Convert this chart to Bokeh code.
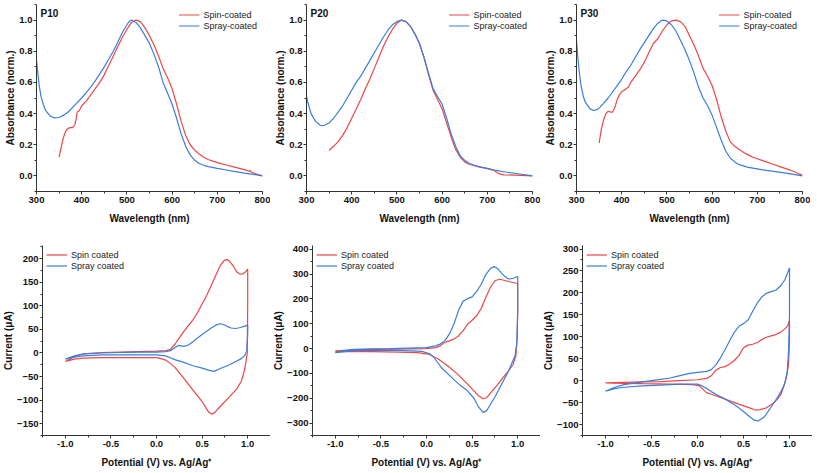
from bokeh.plotting import figure
from bokeh.layouts import column, row
from bokeh.models import Range1d, SingleIntervalTicker, PrintfTickFormatter, Label
from bokeh.embed import file_html
from bokeh.resources import INLINE

RED = "#ee4646"
BLUE = "#3a7ddd"
FONT = "Liberation Sans"

# ---------------- UV-vis data (wavelength nm, normalised absorbance) ----------------
p10_spray_x = [300, 303, 306, 310, 315, 320, 330, 340, 350, 360, 370, 380, 390, 400, 410, 420, 430, 440, 450,
               460, 470, 480, 490, 500, 505, 510, 520, 530, 540, 550, 560, 570, 580, 590, 600, 610, 620, 630,
               640, 650, 660, 670, 680, 700, 720, 740, 760, 780, 800]
p10_spray_y = [0.74, 0.66, 0.58, 0.51, 0.46, 0.42, 0.385, 0.372, 0.375, 0.39, 0.41, 0.44, 0.47, 0.50, 0.535,
               0.57, 0.61, 0.655, 0.70, 0.75, 0.80, 0.86, 0.92, 0.97, 0.99, 1.0, 0.985, 0.95, 0.90, 0.85, 0.78,
               0.70, 0.60, 0.53, 0.46, 0.37, 0.27, 0.19, 0.135, 0.10, 0.08, 0.068, 0.06, 0.048, 0.038, 0.028,
               0.018, 0.01, 0.0]
p10_spin_x = [350, 355, 360, 365, 370, 375, 380, 385, 388, 390, 395, 400, 410, 420, 430, 440, 450, 460, 470,
              480, 490, 500, 510, 520, 530, 540, 550, 560, 570, 580, 590, 600, 610, 620, 630, 640, 650, 660,
              670, 680, 690, 700, 720, 740, 760, 770, 772, 775, 790, 800]
p10_spin_y = [0.12, 0.19, 0.25, 0.29, 0.305, 0.31, 0.31, 0.33, 0.37, 0.41, 0.42, 0.45, 0.48, 0.52, 0.56, 0.60,
              0.65, 0.71, 0.77, 0.83, 0.89, 0.94, 0.985, 1.0, 0.99, 0.95, 0.90, 0.84, 0.77, 0.69, 0.63, 0.56,
              0.46, 0.35, 0.26, 0.20, 0.165, 0.14, 0.12, 0.105, 0.095, 0.085, 0.07, 0.055, 0.04, 0.03, 0.035,
              0.025, 0.008, 0.0]

p20_spray_x = [300, 305, 310, 320, 330, 335, 340, 350, 360, 370, 380, 390, 400, 410, 420, 430, 440, 450, 460,
               470, 480, 490, 500, 510, 520, 530, 540, 550, 560, 570, 580, 590, 600, 610, 620, 630, 640, 650,
               660, 680, 700, 720, 740, 760, 780, 800]
p20_spray_y = [0.51, 0.45, 0.40, 0.35, 0.325, 0.322, 0.325, 0.34, 0.37, 0.41, 0.45, 0.50, 0.55, 0.60, 0.64,
               0.69, 0.74, 0.79, 0.84, 0.89, 0.935, 0.97, 0.99, 1.0, 0.99, 0.96, 0.91, 0.85, 0.76, 0.66, 0.56,
               0.51, 0.46, 0.37, 0.27, 0.19, 0.13, 0.10, 0.08, 0.06, 0.048, 0.035, 0.025, 0.017, 0.009, 0.0]
p20_spin_x = [350, 360, 370, 380, 390, 400, 410, 420, 430, 440, 450, 460, 470, 480, 490, 500, 510, 520, 530,
              540, 550, 560, 570, 580, 590, 600, 610, 620, 630, 640, 650, 660, 680, 700, 715, 725, 735, 760, 800]
p20_spin_y = [0.165, 0.19, 0.22, 0.26, 0.31, 0.37, 0.43, 0.49, 0.56, 0.62, 0.69, 0.76, 0.83, 0.89, 0.94, 0.98,
              1.0, 0.99, 0.96, 0.91, 0.85, 0.76, 0.65, 0.55, 0.49, 0.43, 0.34, 0.25, 0.17, 0.12, 0.09, 0.075,
              0.06, 0.047, 0.035, 0.015, 0.007, 0.005, 0.0]

p30_spray_x = [300, 303, 306, 310, 315, 320, 330, 338, 345, 350, 360, 370, 380, 390, 400, 410, 420, 430, 440,
               450, 460, 470, 480, 490, 500, 510, 520, 530, 540, 550, 560, 570, 580, 590, 600, 610, 620, 630,
               640, 650, 660, 680, 700, 720, 740, 760, 780, 800]
p30_spray_y = [0.87, 0.76, 0.67, 0.58, 0.51, 0.47, 0.43, 0.42, 0.425, 0.435, 0.465, 0.50, 0.54, 0.58, 0.62,
               0.67, 0.71, 0.76, 0.81, 0.855, 0.90, 0.945, 0.98, 1.0, 0.995, 0.97, 0.93, 0.87, 0.81, 0.74, 0.66,
               0.57, 0.50, 0.45, 0.39, 0.31, 0.23, 0.16, 0.115, 0.09, 0.072, 0.055, 0.045, 0.035, 0.027, 0.02,
               0.01, 0.0]
p30_spin_x = [350, 355, 360, 365, 370, 375, 380, 385, 390, 395, 400, 410, 415, 420, 430, 440, 450, 460, 470,
              480, 490, 500, 510, 520, 530, 540, 550, 560, 570, 580, 590, 600, 610, 620, 630, 640, 650, 660,
              670, 680, 690, 700, 710, 720, 730, 740, 750, 760, 770, 775, 780, 790, 800]
p30_spin_y = [0.21, 0.30, 0.36, 0.40, 0.415, 0.41, 0.41, 0.44, 0.49, 0.52, 0.54, 0.56, 0.57, 0.60, 0.64, 0.68,
              0.73, 0.79, 0.85, 0.88, 0.93, 0.97, 0.995, 1.0, 0.99, 0.96, 0.90, 0.84, 0.77, 0.69, 0.64, 0.58,
              0.49, 0.38, 0.29, 0.22, 0.19, 0.17, 0.15, 0.135, 0.12, 0.11, 0.10, 0.09, 0.08, 0.07, 0.06, 0.05,
              0.04, 0.035, 0.03, 0.015, 0.005]

# ---------------- CV data (potential V, current uA) ----------------
cv10_spin_v = [-1.0, -0.9, -0.8, -0.6, -0.4, -0.2, 0.0, 0.1, 0.15, 0.2, 0.25, 0.3, 0.35, 0.4, 0.45, 0.5, 0.55,
               0.6, 0.65, 0.7, 0.74, 0.77, 0.8, 0.84, 0.88, 0.92, 0.95, 0.98, 1.0,
               1.0, 0.995, 0.98, 0.96, 0.93, 0.88, 0.8, 0.7, 0.65, 0.61, 0.57, 0.5, 0.4, 0.3, 0.2, 0.15, 0.1,
               0.05, 0.0, -0.2, -0.4, -0.6, -0.8, -0.9, -1.0]
cv10_spin_i = [-18, -8, -2, 1, 2, 3, 4, 5, 7, 18, 32, 46, 58, 70, 86, 104, 122, 143, 165, 186, 196, 198, 195,
               185, 172, 167, 168, 173, 178,
               100, 0, -20, -40, -60, -76, -93, -113, -124, -130, -125, -103, -79, -54, -30, -22, -15, -12,
               -10, -10, -10, -10, -11, -13, -18]
cv10_spray_v = [-1.0, -0.9, -0.8, -0.6, -0.4, -0.2, 0.0, 0.1, 0.15, 0.2, 0.24, 0.27, 0.3, 0.35, 0.4, 0.45, 0.5,
                0.55, 0.6, 0.65, 0.7, 0.74, 0.78, 0.82, 0.87, 0.92, 0.97, 1.0,
                1.0, 0.99, 0.97, 0.93, 0.88, 0.8, 0.7, 0.63, 0.58, 0.5, 0.4, 0.3, 0.2, 0.15, 0.1, 0.0, -0.2,
                -0.4, -0.6, -0.8, -0.9, -1.0]
cv10_spray_i = [-13, -6, -2, 0, 1, 2, 2, 3, 5, 11, 16, 15, 14, 17, 24, 32, 39, 46, 53, 59, 62, 60, 56, 53, 52,
                54, 57, 59,
                40, 5, -5, -12, -17, -25, -33, -39, -37, -32, -27, -20, -14, -10, -6, -4, -4, -4, -4, -6, -9,
                -13]

cv20_spin_v = [-1.0, -0.8, -0.6, -0.4, -0.2, 0.0, 0.1, 0.15, 0.2, 0.25, 0.3, 0.35, 0.4, 0.45, 0.5, 0.55, 0.6,
               0.65, 0.7, 0.75, 0.8, 0.85, 0.9, 0.95, 1.0,
               1.0, 0.995, 0.98, 0.95, 0.9, 0.85, 0.78, 0.71, 0.66, 0.62, 0.57, 0.52, 0.45, 0.34, 0.23, 0.13,
               0.02, -0.1, -0.3, -0.6, -0.8, -1.0]
cv20_spin_i = [-9, -5, -3, -2, -1, 0, 4, 11, 25, 31, 38, 51, 71, 98, 114, 132, 162, 206, 246, 273, 279, 275,
               270, 266, 262,
               150, 50, -30, -63, -90, -112, -145, -175, -198, -202, -190, -170, -143, -103, -69, -42, -22,
               -16, -14, -12, -11, -12]
cv20_spray_v = [-1.0, -0.9, -0.8, -0.6, -0.4, -0.2, 0.0, 0.1, 0.15, 0.2, 0.25, 0.3, 0.35, 0.4, 0.45, 0.5, 0.55,
                0.6, 0.65, 0.7, 0.74, 0.78, 0.82, 0.86, 0.9, 0.95, 1.0,
                1.0, 0.99, 0.97, 0.94, 0.9, 0.85, 0.8, 0.75, 0.7, 0.66, 0.62, 0.57, 0.52, 0.45, 0.37, 0.3, 0.23,
                0.16, 0.12, 0.08, 0.03, -0.05, -0.3, -0.6, -0.8, -1.0]
cv20_spray_i = [-16, -8, -3, -1, 0, 2, 4, 11, 18, 31, 58, 98, 152, 190, 201, 208, 230, 259, 298, 322, 330, 322,
                305, 290, 280, 283, 290,
                150, 20, -30, -55, -90, -125, -160, -195, -225, -250, -257, -235, -200, -170, -148, -125, -100,
                -75, -55, -35, -20, -11, -7, -6, -8, -16]

cv30_spin_v = [-1.0, -0.8, -0.6, -0.4, -0.2, 0.0, 0.1, 0.15, 0.2, 0.25, 0.3, 0.35, 0.4, 0.45, 0.5, 0.55, 0.6,
               0.65, 0.7, 0.75, 0.8, 0.85, 0.9, 0.95, 0.98, 1.0,
               1.0, 0.99, 0.97, 0.94, 0.91, 0.87, 0.82, 0.75, 0.68, 0.63, 0.55, 0.44, 0.35, 0.25, 0.15, 0.1,
               0.06, 0.02, -0.05, -0.3, -0.6, -0.8, -1.0]
cv30_spin_i = [-5, -4, -3, -2, 0, 2, 5, 11, 24, 30, 32, 38, 46, 57, 75, 81, 83, 87, 94, 99, 102, 105, 110, 118,
               125, 137,
               90, 38, 10, -12, -30, -42, -52, -62, -66, -67, -61, -53, -46, -38, -31, -28, -20, -12, -9, -8,
               -7, -6, -5]
cv30_spray_v = [-1.0, -0.9, -0.8, -0.6, -0.4, -0.3, -0.2, -0.1, 0.0, 0.1, 0.15, 0.2, 0.25, 0.3, 0.35, 0.4, 0.45,
                0.5, 0.55, 0.6, 0.65, 0.7, 0.75, 0.8, 0.85, 0.9, 0.95, 1.0,
                1.0, 0.99, 0.975, 0.95, 0.92, 0.87, 0.8, 0.73, 0.66, 0.62, 0.57, 0.51, 0.45, 0.4, 0.3, 0.2,
                0.15, 0.1, 0.05, 0.0, -0.2, -0.4, -0.6, -0.8, -0.9, -1.0]
cv30_spray_i = [-24, -15, -9, -3, 3, 6, 11, 16, 19, 21, 25, 36, 52, 71, 91, 110, 124, 130, 138, 158, 177, 191,
                199, 203, 206, 215, 230, 257,
                150, 70, 20, -5, -20, -38, -60, -82, -92, -90, -83, -72, -62, -55, -42, -31, -25, -18, -12, -8,
                -8, -10, -12, -15, -18, -24]

# tick labels / axis texts
uv_xlabel = "Wavelength (nm)"
uv_ylabel = "Absorbance (norm.)"
cv_xlabel = "Potential (V) vs. Ag/Ag\u207a"
cv_ylabel = "Current (\u03bcA)"
uv_names = ["P10", "P20", "P30"]
uv_legend = ["Spin-coated", "Spray-coated"]
cv_legend = ["Spin coated", "Spray coated"]


def style_axes(p, xint, yint, xfmt, yfmt, xlabel, ylabel):
    p.xaxis.ticker = SingleIntervalTicker(interval=xint, num_minor_ticks=2)
    p.yaxis.ticker = SingleIntervalTicker(interval=yint, num_minor_ticks=2)
    if xfmt:
        p.xaxis.formatter = PrintfTickFormatter(format=xfmt)
    if yfmt:
        p.yaxis.formatter = PrintfTickFormatter(format=yfmt)
    p.xaxis.axis_label = xlabel
    p.yaxis.axis_label = ylabel
    for ax in (p.xaxis[0], p.yaxis[0]):
        ax.axis_line_color = "#333333"
        ax.major_tick_line_color = "#333333"
        ax.minor_tick_line_color = "#333333"
        ax.major_tick_in = 0
        ax.major_tick_out = 3
        ax.minor_tick_in = 0
        ax.minor_tick_out = 2
        ax.major_label_text_font = FONT
        ax.major_label_text_font_style = "bold"
        ax.major_label_text_font_size = "9.5px"
        ax.major_label_text_color = "#111111"
        ax.axis_label_text_font = FONT
        ax.axis_label_text_font_style = "bold"
        ax.axis_label_text_font_size = "10px"
        ax.axis_label_text_color = "#111111"
    p.xaxis.major_label_standoff = 2
    p.xaxis.axis_label_standoff = 7
    p.yaxis.major_label_standoff = 1
    p.yaxis.axis_label_standoff = 0
    p.xgrid.visible = False
    p.ygrid.visible = False
    p.outline_line_color = None


def style_legend(p, loc, margin):
    lg = p.legend[0]
    lg.location = loc
    lg.background_fill_alpha = 0
    lg.border_line_alpha = 0
    lg.label_text_font = FONT
    lg.label_text_font_size = "9px"
    lg.label_text_color = "#222222"
    lg.glyph_width = 21
    lg.glyph_height = 11
    lg.label_height = 11
    lg.label_standoff = 4
    lg.spacing = 0
    lg.padding = 2
    lg.margin = margin


def uv_panel(name, spin_x, spin_y, spray_x, spray_y):
    p = figure(width=270, height=231, output_backend="svg", toolbar_location=None,
               x_range=Range1d(300, 800), y_range=Range1d(-0.1, 1.1),
               min_border_left=36, min_border_right=8, min_border_top=4, min_border_bottom=40)
    p.line(spin_x, spin_y, color=RED, line_width=1.2, legend_label=uv_legend[0])
    p.line(spray_x, spray_y, color=BLUE, line_width=1.2, legend_label=uv_legend[1])
    style_axes(p, 100, 0.2, None, "%.1f", uv_xlabel, uv_ylabel)
    style_legend(p, "top_right", 3)
    p.add_layout(Label(x=309, y=1.075, text=name, text_font=FONT, text_font_style="bold",
                       text_font_size="10px", text_baseline="top", text_color="#111111"))
    return p


def cv_panel(ylo, yhi, yint, spin_v, spin_i, spray_v, spray_i, width, left):
    p = figure(width=width, height=242, output_backend="svg", toolbar_location=None,
               x_range=Range1d(-1.25, 1.25), y_range=Range1d(ylo, yhi),
               min_border_left=left, min_border_right=0, min_border_top=14, min_border_bottom=38)
    p.line(spin_v, spin_i, color=RED, line_width=1.2, legend_label=cv_legend[0])
    p.line(spray_v, spray_i, color=BLUE, line_width=1.2, legend_label=cv_legend[1])
    style_axes(p, 0.5, yint, "%.1f", None, cv_xlabel, cv_ylabel)
    style_legend(p, "top_left", 2)
    return p


p1 = uv_panel(uv_names[0], p10_spin_x, p10_spin_y, p10_spray_x, p10_spray_y)
p2 = uv_panel(uv_names[1], p20_spin_x, p20_spin_y, p20_spray_x, p20_spray_y)
p3 = uv_panel(uv_names[2], p30_spin_x, p30_spin_y, p30_spray_x, p30_spray_y)
p4 = cv_panel(-175, 228, 50, cv10_spin_v, cv10_spin_i, cv10_spray_v, cv10_spray_i, 270, 41)
p5 = cv_panel(-350, 415, 100, cv20_spin_v, cv20_spin_i, cv20_spray_v, cv20_spray_i, 270, 42)
p6 = cv_panel(-125, 308, 50, cv30_spin_v, cv30_spin_i, cv30_spray_v, cv30_spray_i, 272, 41)

layout = column(row(p1, p2, p3), row(p4, p5, p6))
open("out.html", "w").write(file_html(layout, INLINE))
